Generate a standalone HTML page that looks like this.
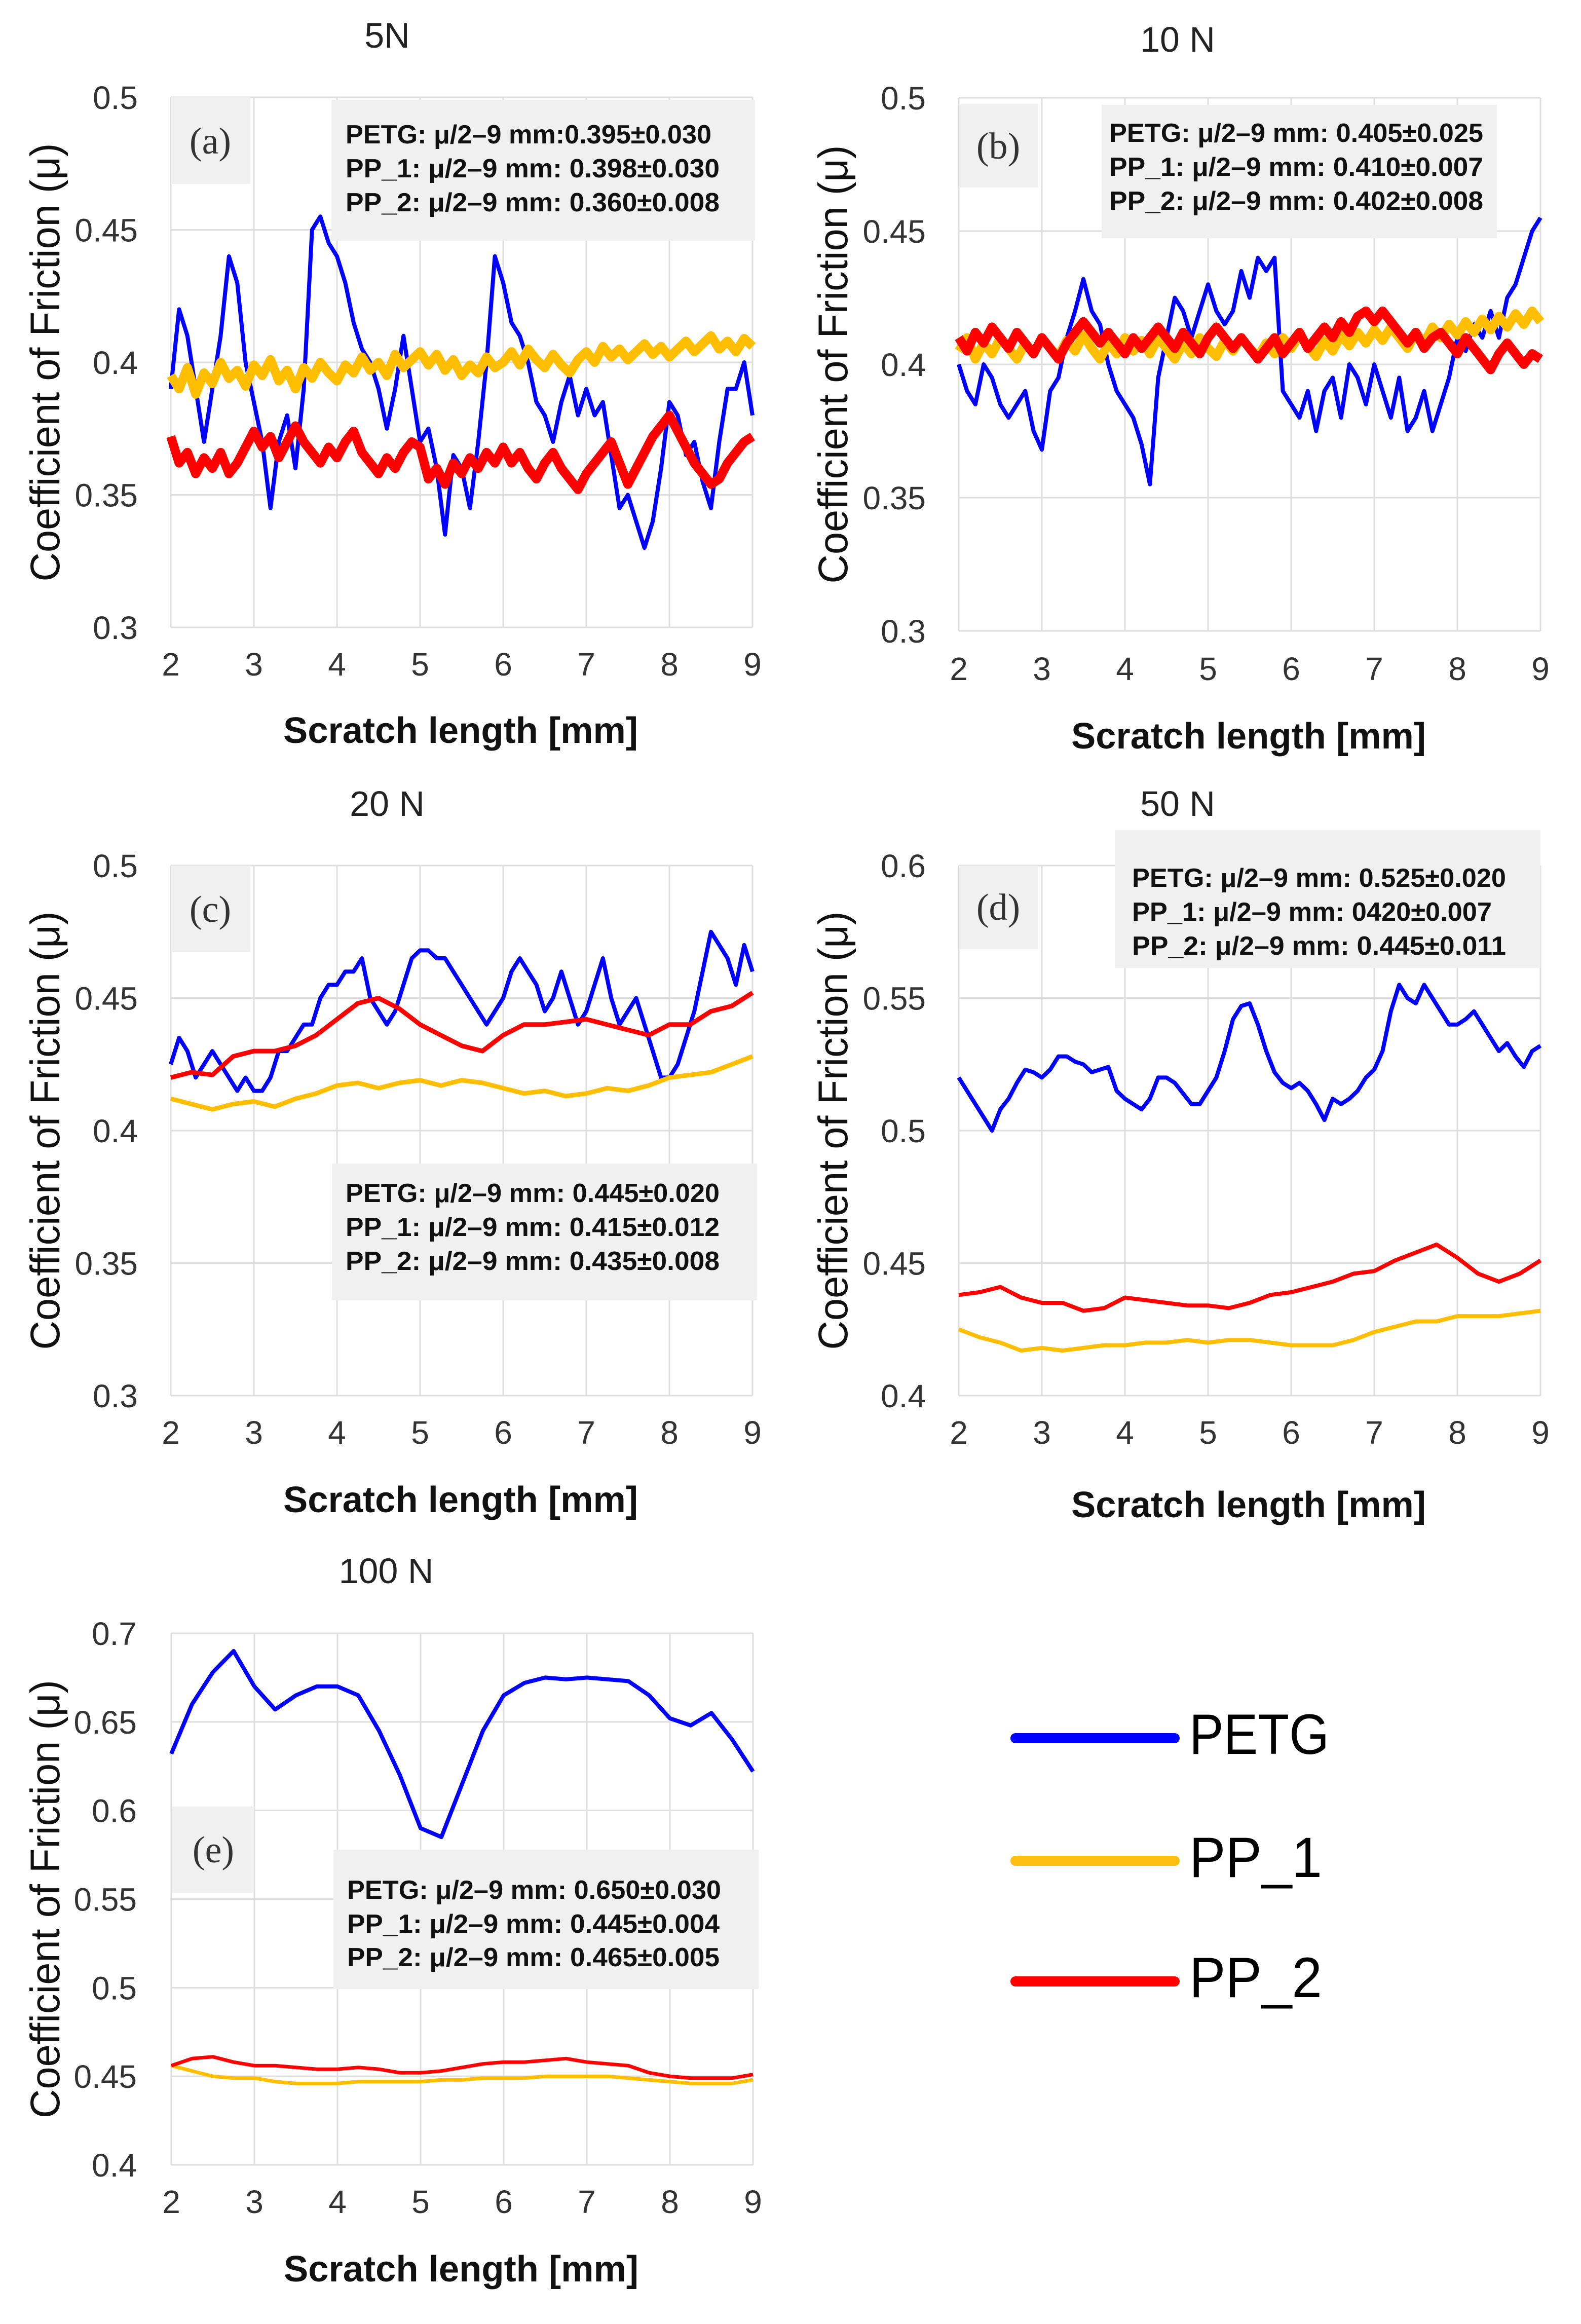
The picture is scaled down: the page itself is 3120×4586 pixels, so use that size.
<!DOCTYPE html>
<html><head><meta charset="utf-8"><style>
html,body{margin:0;padding:0;background:#fff;}
svg{display:block;}
.tk{font-family:"Liberation Sans",sans-serif;font-size:64px;fill:#333;}
.ttl{font-family:"Liberation Sans",sans-serif;font-size:70px;fill:#222;}
.yt{font-family:"Liberation Sans",sans-serif;font-size:82px;fill:#111;}
.xt{font-family:"Liberation Sans",sans-serif;font-size:72px;font-weight:bold;fill:#111;}
.ann{font-family:"Liberation Sans",sans-serif;font-size:52px;font-weight:bold;fill:#111;}
.lab{font-family:"Liberation Serif",serif;font-size:74px;fill:#333;}
.leg{font-family:"Liberation Sans",sans-serif;font-size:112px;fill:#000;}
</style></head><body>
<svg id="fig" width="3120" height="4586" viewBox="0 0 3120 4586" xmlns="http://www.w3.org/2000/svg">
<rect width="3120" height="4586" fill="#fff"/>
<g id="layer-grid"></g>
<g id="layer-boxes">
  <rect x="337" y="192" width="157" height="171" fill="#f0f0f0"/>
  <rect x="654" y="197" width="836" height="278" fill="#f0f0f0"/>
  <rect x="1892" y="205" width="157" height="165" fill="#f0f0f0"/>
  <rect x="2174" y="207" width="780" height="263" fill="#f0f0f0"/>
  <rect x="337" y="1708" width="157" height="171" fill="#f0f0f0"/>
  <rect x="655" y="2296" width="839" height="270" fill="#f0f0f0"/>
  <rect x="1892" y="1708" width="157" height="165" fill="#f0f0f0"/>
  <rect x="2200" y="1638" width="840" height="272" fill="#f0f0f0"/>
  <rect x="340" y="3565" width="162" height="170" fill="#f0f0f0"/>
  <rect x="658" y="3650" width="839" height="275" fill="#f0f0f0"/>
</g>
<g id="layer-series"></g>
<g id="layer-text">
  <text class="lab" x="415" y="303" text-anchor="middle">(a)</text>
  <text class="lab" x="1970" y="313" text-anchor="middle">(b)</text>
  <text class="lab" x="415" y="1819" text-anchor="middle">(c)</text>
  <text class="lab" x="1970" y="1815" text-anchor="middle">(d)</text>
  <text class="lab" x="421" y="3675" text-anchor="middle">(e)</text>

  <text class="ann" x="682" y="283" textLength="722" lengthAdjust="spacingAndGlyphs">PETG: μ/2–9 mm:0.395±0.030</text>
  <text class="ann" x="682" y="350" textLength="738" lengthAdjust="spacingAndGlyphs">PP_1: μ/2–9 mm: 0.398±0.030</text>
  <text class="ann" x="682" y="417" textLength="738" lengthAdjust="spacingAndGlyphs">PP_2: μ/2–9 mm: 0.360±0.008</text>

  <text class="ann" x="2189" y="280" textLength="738" lengthAdjust="spacingAndGlyphs">PETG: μ/2–9 mm: 0.405±0.025</text>
  <text class="ann" x="2189" y="347" textLength="738" lengthAdjust="spacingAndGlyphs">PP_1: μ/2–9 mm: 0.410±0.007</text>
  <text class="ann" x="2189" y="414" textLength="738" lengthAdjust="spacingAndGlyphs">PP_2: μ/2–9 mm: 0.402±0.008</text>

  <text class="ann" x="682" y="2372" textLength="738" lengthAdjust="spacingAndGlyphs">PETG: μ/2–9 mm: 0.445±0.020</text>
  <text class="ann" x="682" y="2439" textLength="738" lengthAdjust="spacingAndGlyphs">PP_1: μ/2–9 mm: 0.415±0.012</text>
  <text class="ann" x="682" y="2506" textLength="738" lengthAdjust="spacingAndGlyphs">PP_2: μ/2–9 mm: 0.435±0.008</text>

  <text class="ann" x="2234" y="1750" textLength="738" lengthAdjust="spacingAndGlyphs">PETG: μ/2–9 mm: 0.525±0.020</text>
  <text class="ann" x="2234" y="1817" textLength="710" lengthAdjust="spacingAndGlyphs">PP_1: μ/2–9 mm: 0420±0.007</text>
  <text class="ann" x="2234" y="1884" textLength="738" lengthAdjust="spacingAndGlyphs">PP_2: μ/2–9 mm: 0.445±0.011</text>

  <text class="ann" x="685" y="3747" textLength="738" lengthAdjust="spacingAndGlyphs">PETG: μ/2–9 mm: 0.650±0.030</text>
  <text class="ann" x="685" y="3814" textLength="735" lengthAdjust="spacingAndGlyphs">PP_1: μ/2–9 mm: 0.445±0.004</text>
  <text class="ann" x="685" y="3880" textLength="735" lengthAdjust="spacingAndGlyphs">PP_2: μ/2–9 mm: 0.465±0.005</text>

  <line x1="2004" y1="3430" x2="2318" y2="3430" stroke="#0000ff" stroke-width="20" stroke-linecap="round"/>
  <line x1="2004" y1="3672" x2="2318" y2="3672" stroke="#ffbf10" stroke-width="20" stroke-linecap="round"/>
  <line x1="2004" y1="3910" x2="2318" y2="3910" stroke="#ff0000" stroke-width="20" stroke-linecap="round"/>
  <text class="leg" x="2347" y="3461" textLength="276" lengthAdjust="spacingAndGlyphs">PETG</text>
  <text class="leg" x="2347" y="3704" textLength="262" lengthAdjust="spacingAndGlyphs">PP_1</text>
  <text class="leg" x="2347" y="3941" textLength="262" lengthAdjust="spacingAndGlyphs">PP_2</text>
</g>
</svg>
<script>
// ---- data ----
const xTicks = [2,3,4,5,6,7,8,9];
const yTicksA = ["0.3","0.35","0.4","0.45","0.5"];
const yTicksD = ["0.4","0.45","0.5","0.55","0.6"];
const yTicksE = ["0.4","0.45","0.5","0.55","0.6","0.65","0.7"];
const panelTitles = ["5N","10 N","20 N","50 N","100 N"];

const aPETG = [0.39,0.42,0.41,0.39,0.37,0.39,0.41,0.44,0.43,0.40,0.385,0.37,0.345,0.37,0.38,0.36,0.39,0.45,0.455,0.445,0.44,0.43,0.415,0.405,0.40,0.39,0.375,0.39,0.41,0.39,0.37,0.375,0.36,0.335,0.365,0.36,0.345,0.37,0.40,0.44,0.43,0.415,0.41,0.40,0.385,0.38,0.37,0.385,0.395,0.38,0.39,0.38,0.385,0.365,0.345,0.35,0.34,0.33,0.34,0.36,0.385,0.38,0.365,0.37,0.355,0.345,0.37,0.39,0.39,0.40,0.38];
const aPP1 = [0.395,0.39,0.398,0.388,0.396,0.392,0.4,0.394,0.397,0.391,0.399,0.395,0.401,0.393,0.397,0.39,0.398,0.394,0.4,0.396,0.393,0.399,0.396,0.402,0.397,0.4,0.395,0.403,0.398,0.401,0.404,0.399,0.403,0.397,0.401,0.395,0.399,0.396,0.402,0.398,0.4,0.404,0.399,0.405,0.401,0.398,0.403,0.399,0.396,0.401,0.404,0.4,0.406,0.402,0.405,0.401,0.404,0.407,0.403,0.406,0.402,0.405,0.408,0.404,0.407,0.41,0.405,0.408,0.404,0.409,0.406];
const aPP2 = [0.372,0.362,0.366,0.358,0.364,0.36,0.366,0.358,0.362,0.368,0.374,0.368,0.372,0.364,0.37,0.376,0.37,0.366,0.362,0.368,0.364,0.37,0.374,0.366,0.362,0.358,0.364,0.36,0.366,0.37,0.368,0.356,0.36,0.354,0.362,0.358,0.364,0.36,0.366,0.362,0.368,0.362,0.366,0.36,0.356,0.362,0.366,0.36,0.356,0.352,0.358,0.362,0.366,0.37,0.362,0.354,0.36,0.366,0.372,0.376,0.38,0.374,0.368,0.362,0.358,0.354,0.356,0.362,0.366,0.37,0.372];

const bPETG = [0.40,0.39,0.385,0.40,0.395,0.385,0.38,0.385,0.39,0.375,0.368,0.39,0.395,0.41,0.42,0.432,0.42,0.415,0.40,0.39,0.385,0.38,0.37,0.355,0.395,0.41,0.425,0.42,0.41,0.42,0.43,0.42,0.415,0.42,0.435,0.425,0.44,0.435,0.44,0.39,0.385,0.38,0.39,0.375,0.39,0.395,0.38,0.40,0.395,0.385,0.40,0.39,0.38,0.395,0.375,0.38,0.39,0.375,0.385,0.395,0.41,0.405,0.415,0.41,0.42,0.41,0.425,0.43,0.44,0.45,0.455];
const bPP1 = [0.405,0.41,0.402,0.408,0.404,0.41,0.406,0.402,0.408,0.404,0.41,0.406,0.403,0.409,0.405,0.411,0.406,0.402,0.408,0.404,0.41,0.405,0.409,0.404,0.41,0.406,0.402,0.408,0.404,0.41,0.406,0.403,0.409,0.405,0.41,0.406,0.403,0.408,0.404,0.41,0.406,0.411,0.407,0.403,0.409,0.405,0.411,0.407,0.412,0.408,0.413,0.409,0.414,0.41,0.406,0.412,0.408,0.414,0.41,0.415,0.411,0.416,0.412,0.417,0.413,0.418,0.414,0.419,0.415,0.42,0.416];
const bPP2 = [0.41,0.405,0.412,0.408,0.414,0.41,0.406,0.412,0.408,0.404,0.41,0.406,0.402,0.408,0.412,0.416,0.412,0.408,0.412,0.408,0.404,0.41,0.406,0.41,0.414,0.41,0.406,0.412,0.408,0.404,0.41,0.414,0.41,0.406,0.41,0.406,0.402,0.406,0.41,0.404,0.408,0.412,0.406,0.41,0.414,0.41,0.416,0.412,0.418,0.42,0.416,0.42,0.416,0.412,0.408,0.412,0.406,0.41,0.412,0.408,0.404,0.41,0.406,0.402,0.398,0.404,0.408,0.404,0.4,0.404,0.402];

const cPETG = [0.425,0.435,0.43,0.42,0.425,0.43,0.425,0.42,0.415,0.42,0.415,0.415,0.42,0.43,0.43,0.435,0.44,0.44,0.45,0.455,0.455,0.46,0.46,0.465,0.45,0.445,0.44,0.445,0.455,0.465,0.468,0.468,0.465,0.465,0.46,0.455,0.45,0.445,0.44,0.445,0.45,0.46,0.465,0.46,0.455,0.445,0.45,0.46,0.45,0.44,0.445,0.455,0.465,0.45,0.44,0.445,0.45,0.44,0.43,0.42,0.42,0.425,0.435,0.445,0.46,0.475,0.47,0.465,0.455,0.47,0.46];
const cPP1 = [0.412,0.41,0.408,0.41,0.411,0.409,0.412,0.414,0.417,0.418,0.416,0.418,0.419,0.417,0.419,0.418,0.416,0.414,0.415,0.413,0.414,0.416,0.415,0.417,0.42,0.421,0.422,0.425,0.428];
const cPP2 = [0.42,0.422,0.421,0.428,0.43,0.43,0.432,0.436,0.442,0.448,0.45,0.446,0.44,0.436,0.432,0.43,0.436,0.44,0.44,0.441,0.442,0.44,0.438,0.436,0.44,0.44,0.445,0.447,0.452];

const dPETG = [0.52,0.515,0.51,0.505,0.5,0.508,0.512,0.518,0.523,0.522,0.52,0.523,0.528,0.528,0.526,0.525,0.522,0.523,0.524,0.515,0.512,0.51,0.508,0.512,0.52,0.52,0.518,0.514,0.51,0.51,0.515,0.52,0.53,0.542,0.547,0.548,0.54,0.53,0.522,0.518,0.516,0.518,0.515,0.51,0.504,0.512,0.51,0.512,0.515,0.52,0.523,0.53,0.545,0.555,0.55,0.548,0.555,0.55,0.545,0.54,0.54,0.542,0.545,0.54,0.535,0.53,0.533,0.528,0.524,0.53,0.532];
const dPP1 = [0.425,0.422,0.42,0.417,0.418,0.417,0.418,0.419,0.419,0.42,0.42,0.421,0.42,0.421,0.421,0.42,0.419,0.419,0.419,0.421,0.424,0.426,0.428,0.428,0.43,0.43,0.43,0.431,0.432];
const dPP2 = [0.438,0.439,0.441,0.437,0.435,0.435,0.432,0.433,0.437,0.436,0.435,0.434,0.434,0.433,0.435,0.438,0.439,0.441,0.443,0.446,0.447,0.451,0.454,0.457,0.452,0.446,0.443,0.446,0.451];

const ePETG = [0.632,0.66,0.678,0.69,0.67,0.657,0.665,0.67,0.67,0.665,0.645,0.62,0.59,0.585,0.615,0.645,0.665,0.672,0.675,0.674,0.675,0.674,0.673,0.665,0.652,0.648,0.655,0.64,0.622];
const ePP1 = [0.456,0.453,0.45,0.449,0.449,0.447,0.446,0.446,0.446,0.447,0.447,0.447,0.447,0.448,0.448,0.449,0.449,0.449,0.45,0.45,0.45,0.45,0.449,0.448,0.447,0.446,0.446,0.446,0.448];
const ePP2 = [0.456,0.46,0.461,0.458,0.456,0.456,0.455,0.454,0.454,0.455,0.454,0.452,0.452,0.453,0.455,0.457,0.458,0.458,0.459,0.46,0.458,0.457,0.456,0.452,0.45,0.449,0.449,0.449,0.451];

// ---- layout ----
const NS = "http://www.w3.org/2000/svg";
const panels = [
 {id:"a", L:337, R:1485, T:192, B:1238, ymin:0.3, ymax:0.5, yt:yTicksA, title:panelTitles[0], tx:764, ty:94, xl:1333, xtl:1466, yl:272, ytx:88, series:[[aPETG,"#0000ff",8],[aPP1,"#ffbf00",18],[aPP2,"#ff0000",18]]},
 {id:"b", L:1892, R:3040, T:193, B:1245, ymin:0.3, ymax:0.5, yt:yTicksA, title:panelTitles[1], tx:2324, ty:102, xl:1342, xtl:1477, yl:1827, ytx:1643, series:[[bPETG,"#0000ff",8],[bPP1,"#ffbf00",18],[bPP2,"#ff0000",18]]},
 {id:"c", L:337, R:1485, T:1708, B:2754, ymin:0.3, ymax:0.5, yt:yTicksA, title:panelTitles[2], tx:764, ty:1610, xl:2849, xtl:2984, yl:272, ytx:88, series:[[cPETG,"#0000ff",8],[cPP1,"#ffbf00",9],[cPP2,"#ff0000",9]]},
 {id:"d", L:1892, R:3040, T:1708, B:2754, ymin:0.4, ymax:0.6, yt:yTicksD, title:panelTitles[3], tx:2324, ty:1610, xl:2849, xtl:2994, yl:1827, ytx:1643, series:[[dPETG,"#0000ff",8],[dPP1,"#ffbf00",8],[dPP2,"#ff0000",8]]},
 {id:"e", L:338, R:1486, T:3223, B:4272, ymin:0.4, ymax:0.7, yt:yTicksE, title:panelTitles[4], tx:762, ty:3124, xl:4367, xtl:4502, yl:270, ytx:88, series:[[ePETG,"#0000ff",8],[ePP1,"#ffbf00",7],[ePP2,"#ff0000",7]]}
];
const seriesNames = ["petg","pp1","pp2"];
const gGrid = document.getElementById("layer-grid");
const gSer = document.getElementById("layer-series");
const gTxt = document.getElementById("layer-text");

function mk(tag, attrs, parent){
  const el = document.createElementNS(NS, tag);
  for (const k in attrs) el.setAttribute(k, attrs[k]);
  parent.appendChild(el);
  return el;
}

panels.forEach(p => {
  const xs = v => p.L + (v - 2) / 7 * (p.R - p.L);
  const ys = v => p.B - (v - p.ymin) / (p.ymax - p.ymin) * (p.B - p.T);
  xTicks.forEach(t => {
    const ln = mk("line", {x1:xs(t), x2:xs(t), y1:p.T, y2:p.B, stroke:"#dedede", "stroke-width":3}, gGrid);
    
    
    const tx = mk("text", {x:xs(t), y:p.xl, "text-anchor":"middle", class:"tk"}, gTxt);
    
    
    tx.textContent = String(t);
  });
  p.yt.forEach(s => {
    const v = parseFloat(s);
    const ln = mk("line", {x1:p.L, x2:p.R, y1:ys(v), y2:ys(v), stroke:"#dedede", "stroke-width":3}, gGrid);
    
    
    const tx = mk("text", {x:p.yl, y:ys(v) + 23, "text-anchor":"end", class:"tk"}, gTxt);
    
    
    tx.textContent = s;
  });
  p.series.forEach((s, si) => {
    const vals = s[0], n = vals.length;
    const pts = vals.map((v, i) => xs(2 + 7 * i / (n - 1)).toFixed(1) + "," + ys(v).toFixed(1)).join(" ");
    const pl = mk("polyline", {points:pts, fill:"none", stroke:s[1], "stroke-width":s[2], "stroke-linejoin":"round"}, gSer);
    
    
  });
  const t = mk("text", {x:p.tx, y:p.ty, "text-anchor":"middle", class:"ttl"}, gTxt);
  
  
  t.textContent = p.title;
  const xt = mk("text", {x:(p.L + p.R) / 2 - 2, y:p.xtl, "text-anchor":"middle", class:"xt", textLength:700, lengthAdjust:"spacingAndGlyphs"}, gTxt);
  
  
  xt.textContent = "Scratch length [mm]";
  const cy = (p.T + p.B) / 2;
  const yt = mk("text", {x:p.ytx, y:cy, "text-anchor":"middle", class:"yt", transform:"rotate(-90 " + p.ytx + " " + cy + ")", dy:"29", textLength:865, lengthAdjust:"spacingAndGlyphs"}, gTxt);
  
  
  yt.textContent = "Coefficient of Friction (μ)";
});
</script>
</body></html>
